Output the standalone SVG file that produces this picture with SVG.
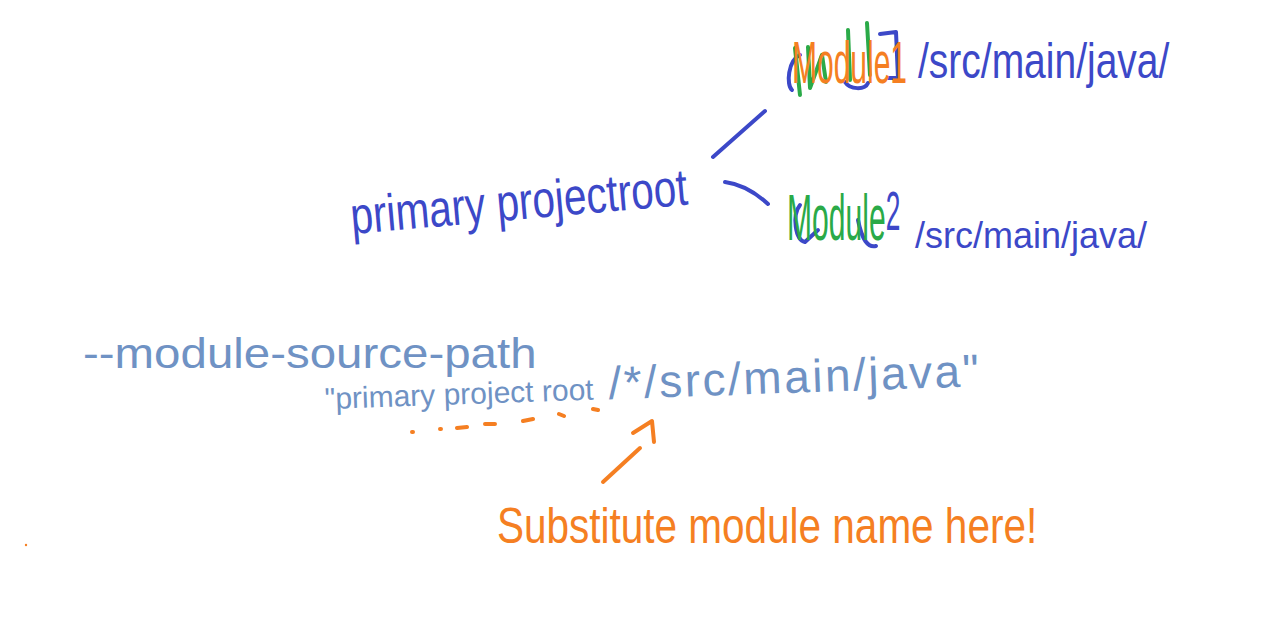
<svg xmlns="http://www.w3.org/2000/svg" width="1268" height="634" viewBox="0 0 1268 634">
<style>
  text { font-family: "Liberation Sans", Arial, sans-serif; }
  .blue { fill: #3c48c8; }
  .steel { fill: #6f92c4; }
  .orange { fill: #f57f22; }
  .green { fill: #2aaa48; }
  .ln { fill: none; stroke-width: 4; stroke-linecap: round; stroke-linejoin: round; }
  .lb { stroke: #3c48c8; }
  .lo { stroke: #f57f22; }
  .lg { stroke: #2aaa48; }
</style>
<rect width="1268" height="634" fill="#ffffff"/>

<g id="module1">
  <path class="ln lb" d="M800 55 C788 60 786 85 792 90 M845 82 C850 90 865 90 868 83 M880 34 L896 32 L898 78 L888 78" />
  <path class="ln lg" d="M795 48 L800 95 M808 47 L810 88 L822 55 L826 82 M848 30 L850 80 M867 23 L870 75" />
  <text class="orange" transform="translate(792,83) scale(0.5,1)" font-size="60">Module1</text>
  <text class="blue" transform="translate(918,78) scale(0.78,1)" font-size="50">/src/main/java/</text>
</g>

<g id="module2">
  <path class="ln lb" d="M800 205 C792 215 795 240 805 242 L818 230 M858 220 C862 240 868 248 876 246" />
  <text transform="translate(787,240) scale(0.47,1)"><tspan class="green" font-size="64">Module</tspan><tspan class="blue" font-size="56" dy="-10">2</tspan></text>
  <text class="blue" x="915" y="248" font-size="36">/src/main/java/</text>
</g>

<g id="root">
  <text class="blue" transform="translate(352,234) rotate(-5) scale(0.78,1)" font-size="52">primary projectroot</text>
</g>

<g id="option">
  <text class="steel" transform="translate(83,368) scale(1.13,1)" font-size="42">--module-source-path</text>
</g>

<g id="path-expression">
  <text class="steel" transform="translate(325,409) rotate(-2)"><tspan font-size="30">"primary project root</tspan><tspan font-size="46" dx="15" letter-spacing="2.5">/*/src/main/java"</tspan></text>
</g>

<g id="note">
  <text class="orange" transform="translate(497,543) scale(0.81,1)" font-size="50">Substitute module name here!</text>
  <circle cx="26" cy="545" r="1.2" fill="#f57f22"/>
</g>

<g id="connectors">
  <path class="ln lb" d="M713 157 L765 111" />
  <path class="ln lb" d="M725 182 C740 184 755 192 768 204" />
  <path class="ln lo" d="M412 432 L413 432 M440 429 L441 429 M457 428 L467 427 M485 424 L495 424 M523 421 L533 419 M559 414 L564 416 M593 409 L598 410" />
  <path class="ln lo" d="M640 448 L603 482 M633 433 L652 421 L654 442" />
</g>
</svg>
